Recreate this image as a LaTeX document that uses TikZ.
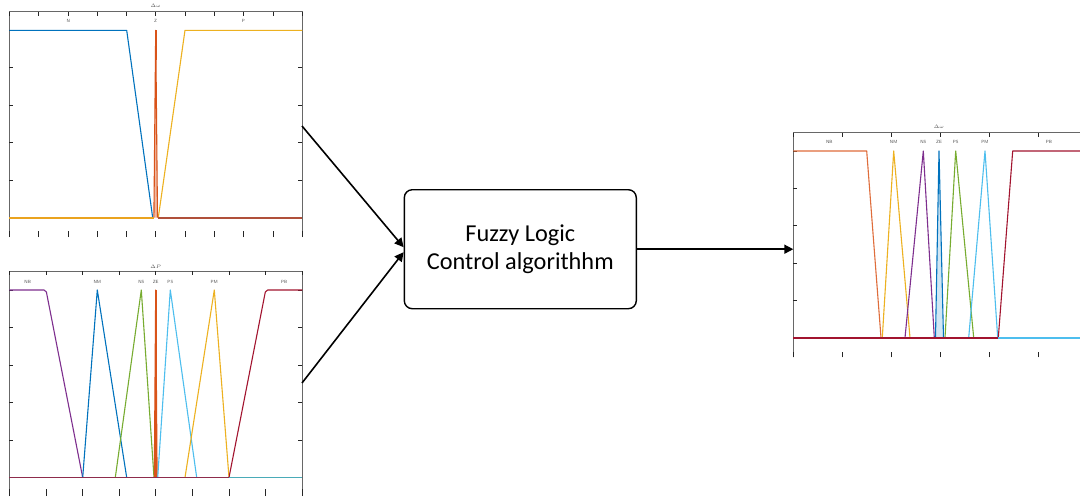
\documentclass[tikz,border=0pt]{standalone}
\usepackage{fontspec}
\setmainfont{Carlito}
\usetikzlibrary{arrows.meta}
% MATLAB default line colours
\definecolor{mlblue}{HTML}{0072BD}
\definecolor{mlorange}{HTML}{D95319}
\definecolor{mlyellow}{HTML}{EDB120}
\definecolor{mlpurple}{HTML}{7E2F8E}
\definecolor{mlgreen}{HTML}{77AC30}
\definecolor{mlcyan}{HTML}{4DBEEE}
\definecolor{mlred}{HTML}{A2142F}
\definecolor{axisgray}{HTML}{262626}
\definecolor{zerobrown}{HTML}{B0503A}
\definecolor{zeromaroon}{HTML}{8E2C4C}
\definecolor{zeroteal}{HTML}{4AABB8}
\begin{document}
\begin{tikzpicture}[x=1pt,y=-1pt,
  axisline/.style={draw=axisgray!70,line width=0.6pt},
  tickline/.style={draw=axisgray,line width=0.7pt},
  mf/.style={line width=1.1pt,line join=round},
  zeroline/.style={line width=1.6pt},
  mflabel/.style={font=\fontsize{4.5}{5}\sffamily,text=axisgray!80,inner sep=0pt},
  plottitle/.style={font=\fontsize{5}{6}\selectfont,text=axisgray!80,inner sep=0pt},
  flow/.style={line width=1.6pt,-{Triangle[length=9pt,width=9pt]}},
  flcbox/.style={draw,line width=1.4pt,rounded corners=8pt,minimum width=232pt,
    minimum height=119pt,align=center,font=\fontsize{24.3}{28.5}\selectfont}]
\useasboundingbox (0,0) rectangle (1080,496);
\fill[white] (0,0) rectangle (1080,496);

% ---------- input 1: membership functions of Delta omega ----------
\draw[axisline] (9.3,237) -- (9.3,11.7) -- (302.3,11.7) -- (302.3,237);
\foreach \i in {0,...,10} {
  \draw[tickline] ({9.3+29.3*\i},11.7) -- ++(0,4);
  \draw[tickline] ({9.3+29.3*\i},237) -- ++(0,-6);
}
\foreach \k in {0,...,5} {
  \draw[tickline] (9.3,{30.3+37.5*\k}) -- ++(4,0);
  \draw[tickline] (302.3,{30.3+37.5*\k}) -- ++(-4,0);
}
\node[plottitle] (dw-title) at (155.7,6) {$\Delta\omega$};
\node[mflabel] (dw-n) at (68.3,21) {N};
\node[mflabel] (dw-z) at (155.7,21) {Z};
\node[mflabel] (dw-p) at (243.3,21) {P};
\draw[mf,mlblue] (9.3,30.3) -- (126.7,30.3) -- (152.7,217.7);
\draw[mf,mlyellow] (158.3,217.7) -- (185,30.3) -- (302.3,30.3);
\filldraw[mf,draw=mlorange,fill=mlorange!40] (153.9,217.7) -- (155.7,30.3) -- (157.5,217.7);
\draw[mlorange,line width=1.8pt] (155.7,30.3) -- (155.7,60);
\draw[zeroline,mlyellow!85!mlorange] (9.3,217.7) -- (154,217.7);
\draw[zeroline,zerobrown] (157.5,217.7) -- (302.3,217.7);

% ---------- input 2: membership functions of Delta P ----------
\draw[axisline] (9.3,496) -- (9.3,271) -- (302.3,271) -- (302.3,496);
\foreach \i in {0,...,8} {
  \draw[tickline] ({9.3+36.625*\i},271) -- ++(0,4);
  \draw[tickline] ({9.3+36.625*\i},496) -- ++(0,-7);
}
\foreach \k in {0,...,5} {
  \draw[tickline] (9.3,{290+37.5*\k}) -- ++(4,0);
  \draw[tickline] (302.3,{290+37.5*\k}) -- ++(-4,0);
}
\node[plottitle] (dp-title) at (155.7,266.5) {$\Delta P$};
\node[mflabel] (dp-nb) at (27.7,281.7) {NB};
\node[mflabel] (dp-nm) at (97.3,281.7) {NM};
\node[mflabel] (dp-ns) at (141.3,281.7) {NS};
\node[mflabel] (dp-ze) at (155.7,281.7) {ZE};
\node[mflabel] (dp-ps) at (170.3,281.7) {PS};
\node[mflabel] (dp-pm) at (214.3,281.7) {PM};
\node[mflabel] (dp-pb) at (284.3,281.7) {PB};
\draw[mf,mlpurple,rounded corners=2pt] (9.3,290) -- (46,290) -- (82.7,477.5);
\draw[mf,mlblue] (82.7,477.5) -- (97.3,290) -- (126.7,477.5);
\draw[mf,mlgreen] (115.3,477.5) -- (141.3,290) -- (154,477.5);
\filldraw[mf,draw=mlorange,fill=mlorange!40] (154.3,477.5) -- (155.7,290) -- (157.1,477.5);
\draw[mlorange,line width=1.8pt] (155.7,290) -- (155.7,477.5);
\draw[mf,mlcyan] (157.7,477.5) -- (170.3,290) -- (196.7,477.5);
\draw[mf,mlyellow] (185,477.5) -- (214.3,290) -- (229,477.5);
\draw[mf,mlred,rounded corners=2pt] (229,477.5) -- (265.7,290) -- (302.3,290);
\draw[zeroline,zeromaroon] (9.3,477.5) -- (229,477.5);
\draw[zeroline,zeroteal] (229,477.5) -- (302.3,477.5);

% ---------- output: membership functions of Delta omega ----------
\draw[axisline] (793.3,357.3) -- (793.3,132.7) -- (1080,132.7);
\foreach \i in {0,...,5} {
  \draw[tickline] ({793.3+49*\i},132.7) -- ++(0,4);
  \draw[tickline] ({793.3+49*\i},357.3) -- ++(0,-5.6);
}
\foreach \k in {0,...,5} {
  \draw[tickline] (793.3,{151+37.35*\k}) -- ++(4,0);
}
\node[plottitle] (out-title) at (939,126.7) {$\Delta\omega$};
\node[mflabel] (out-nb) at (829.3,142) {NB};
\node[mflabel] (out-nm) at (893.7,142) {NM};
\node[mflabel] (out-ns) at (923.3,142) {NS};
\node[mflabel] (out-ze) at (939,142) {ZE};
\node[mflabel] (out-ps) at (955.7,142) {PS};
\node[mflabel] (out-pm) at (985,142) {PM};
\node[mflabel] (out-pb) at (1049,142) {PB};
\draw[mf,mlorange!85!white] (793.3,151) -- (866.7,151) -- (881,337.7);
\draw[mf,mlyellow] (882.3,337.7) -- (893.7,151) -- (910,337.7);
\draw[mf,mlpurple] (905,337.7) -- (923.3,151) -- (934.3,337.7);
\filldraw[mf,draw=mlblue,fill=mlblue!18] (935.5,337.7) -- (939,151) -- (943.5,337.7);
\draw[mf,mlgreen] (945,337.7) -- (955.7,151) -- (973.7,337.7);
\draw[mf,mlcyan] (968.7,337.7) -- (985,151) -- (997.7,337.7);
\draw[mf,mlred] (998.3,337.7) -- (1012.7,151) -- (1080,151);
\draw[zeroline,mlred] (793.3,337.7) -- (998.3,337.7);
\draw[zeroline,mlcyan] (998.3,337.7) -- (1080,337.7);

% ---------- controller and signal flow ----------
\node[flcbox] (flc) at (520.3,249.2) {Fuzzy Logic\\Control algorithhm};
\coordinate (dw-out) at (302,126);
\coordinate (dp-out) at (302,383);
\coordinate (out-in) at (793.3,249.2);
\draw[flow] (dw-out) -- ([yshift=2pt]flc.west);
\draw[flow] (dp-out) -- ([yshift=-3pt]flc.west);
\draw[flow] (flc.east) -- (out-in);
\end{tikzpicture}
\end{document}
